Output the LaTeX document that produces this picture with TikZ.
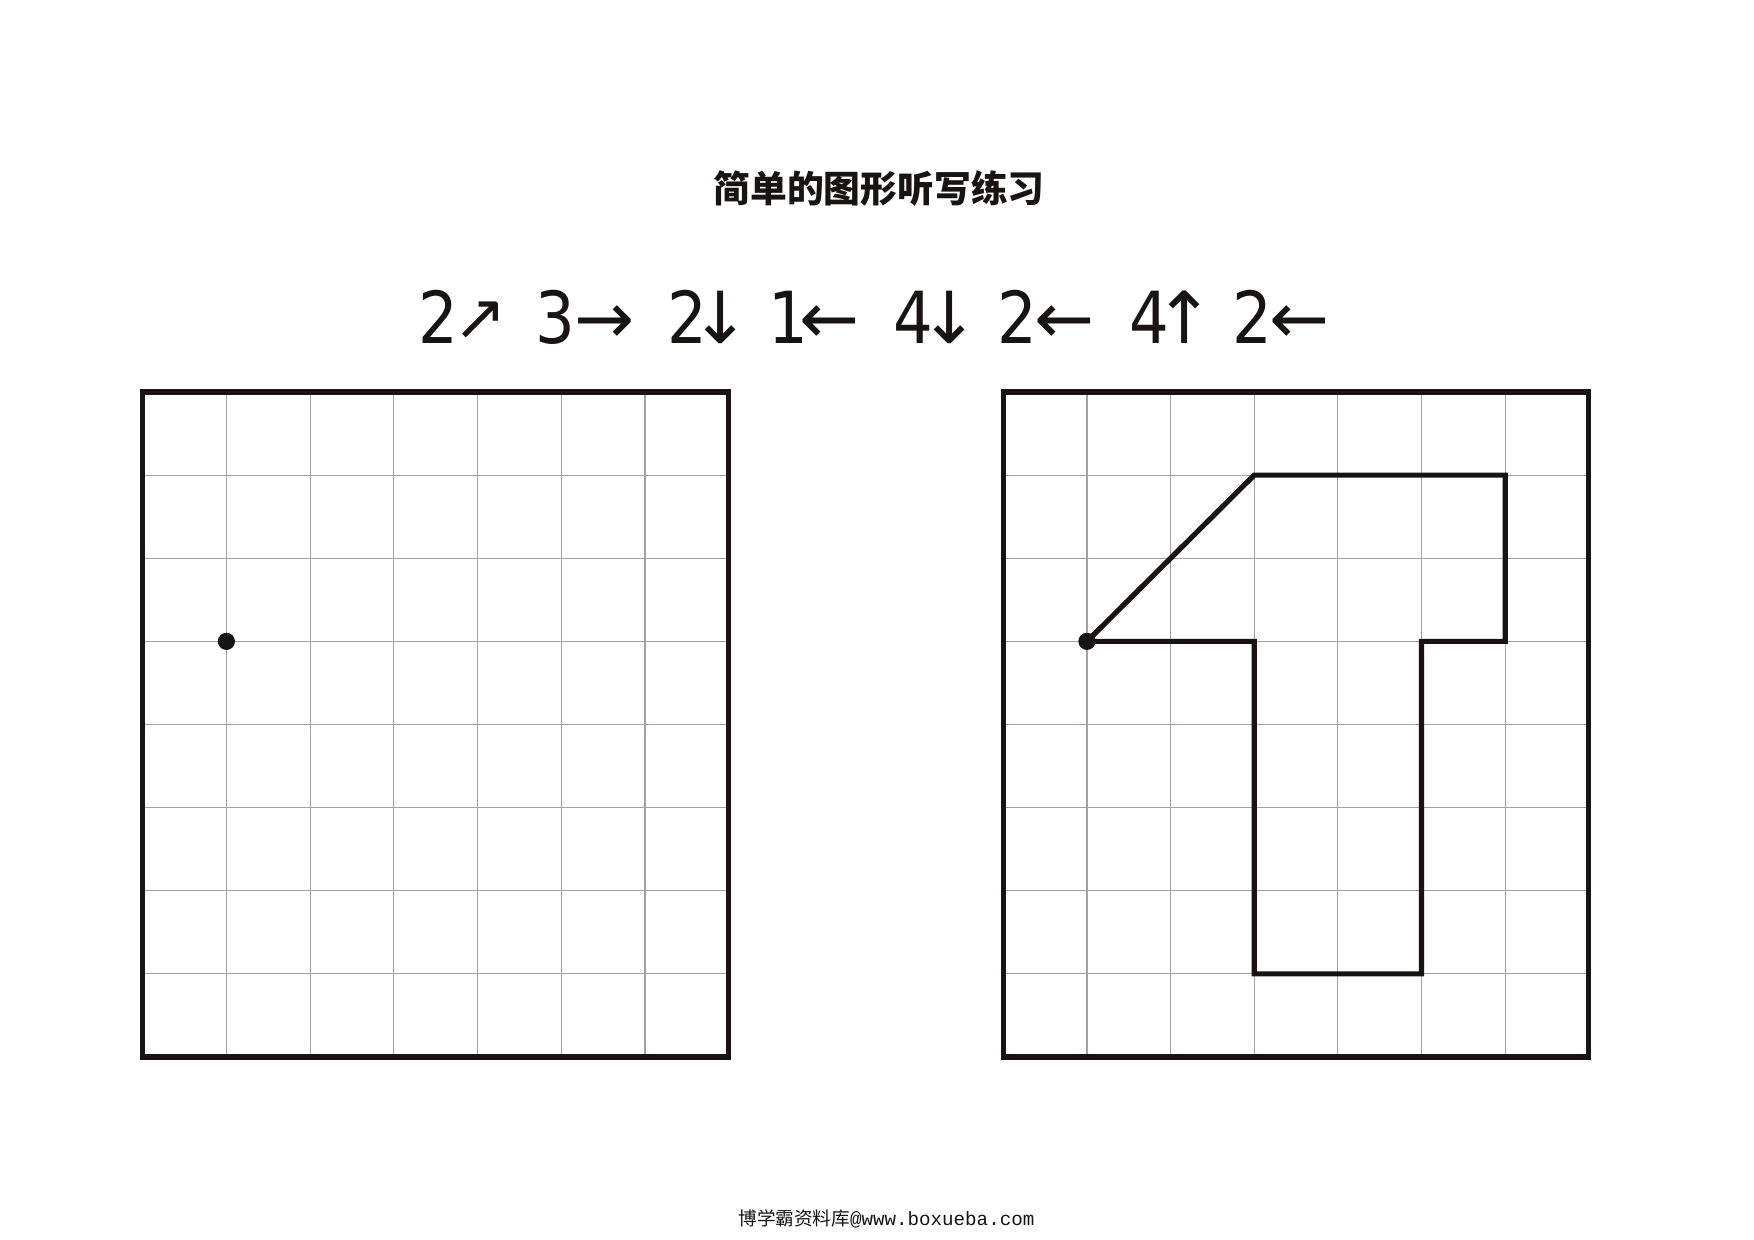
\documentclass[tikz,border=0pt]{standalone}
\usepackage{fontspec}
\newfontfamily\cjk{Noto Sans CJK SC}
\newfontfamily\digitfont[FakeStretch=0.87]{DejaVu Sans}
\newfontfamily\arrowfont{DejaVu Sans}
\newfontfamily\footmono{Liberation Mono}
\definecolor{ink}{RGB}{25,20,20}
\definecolor{gridgray}{RGB}{165,158,162}
\tikzset{
  thin grid/.style={draw=gridgray, line width=0.6pt},
  frame/.style={draw=ink, line width=2.6pt},
  figline/.style={draw=ink, line width=2.6pt, line join=miter},
  digit/.style={inner sep=0pt, anchor=base, font=\digitfont\fontsize{35.9}{40}\selectfont, text=ink},
  arrowtok/.style={inner sep=0pt, anchor=base, font=\arrowfont\fontsize{35.9}{40}\selectfont, text=ink},
  smallarrow/.style={inner sep=0pt, anchor=base, font=\arrowfont\fontsize{32}{36}\selectfont, text=ink},
}
\begin{document}
\begin{tikzpicture}[x=0.5pt, y=-0.5pt]
\useasboundingbox (0,0) rectangle (1754,1240);
\fill[white] (0,0) rectangle (1754,1240);

% title
\node[inner sep=0pt, font=\cjk\bfseries\fontsize{18.4}{20}\selectfont, text=ink] (title) at (879,188) {简单的图形听写练习};

% instruction tokens
\node[digit] (d1) at (438.3,344) {2};
\node[smallarrow] (a1) at (480.3,340) {↗};
\node[digit] (d2) at (555.8,344) {3};
\node[arrowtok] (a2) at (605,344) {→};
\node[digit] (d3) at (687.3,344) {2};
\node[arrowtok] (a3) at (720.8,344) {↓};
\node[digit] (d4) at (788.3,344) {1};
\node[arrowtok] (a4) at (829.8,344) {←};
\node[digit] (d5) at (913.3,344) {4};
\node[arrowtok] (a5) at (949.2,344) {↓};
\node[digit] (d6) at (1017.3,344) {2};
\node[arrowtok] (a6) at (1064.8,344) {←};
\node[digit] (d7) at (1149.8,344) {4};
\node[arrowtok] (a7) at (1184.2,344) {↑};
\node[digit] (d8) at (1252.5,344) {2};
\node[arrowtok] (a8) at (1299.8,344) {←};

% left grid
\begin{scope}[shift={(142.7,392)}, x=41.85pt, y=-41.5625pt]
  \foreach \i in {1,...,6} \draw[thin grid] (\i,0) -- (\i,8);
  \foreach \j in {1,...,7} \draw[thin grid] (0,\j) -- (7,\j);
  \draw[frame] (0,0) rectangle (7,8);
  \coordinate (startL) at (1,3);
  \fill[ink] (startL) circle[radius=4.3pt];
\end{scope}

% right grid
\begin{scope}[shift={(1003.3,392)}, x=41.82pt, y=-41.5625pt]
  \foreach \i in {1,...,6} \draw[thin grid] (\i,0) -- (\i,8);
  \foreach \j in {1,...,7} \draw[thin grid] (0,\j) -- (7,\j);
  \draw[frame] (0,0) rectangle (7,8);
  \coordinate (p0) at (1,3);
  \coordinate (p1) at (3,1);
  \coordinate (p2) at (6,1);
  \coordinate (p3) at (6,3);
  \coordinate (p4) at (5,3);
  \coordinate (p5) at (5,7);
  \coordinate (p6) at (3,7);
  \coordinate (p7) at (3,3);
  \draw[figline] (p0) -- (p1) -- (p2) -- (p3) -- (p4) -- (p5) -- (p6) -- (p7) -- cycle;
  \fill[ink] (p0) circle[radius=4.3pt];
\end{scope}

% footer
\node[inner sep=0pt, anchor=base west, text=ink] (footer) at (738,1225)
  {{\cjk\fontsize{9.3}{11}\selectfont 博学霸资料库}{\footmono\fontsize{9.6}{11}\selectfont @www.boxueba.com}};
\end{tikzpicture}
\end{document}
